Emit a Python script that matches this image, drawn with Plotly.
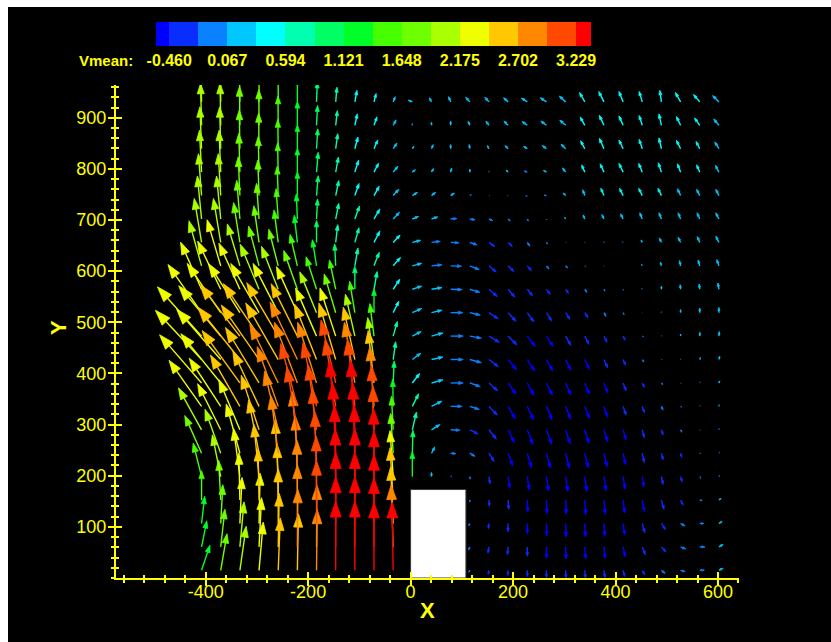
import math
import bisect
import plotly.graph_objects as go

# ---------------------------------------------------------------------------
# Measurement grid (tail position of each velocity vector)
# ---------------------------------------------------------------------------
x_grid = [-408.0, -370.6, -333.2, -295.8, -258.4, -221.0, -183.6, -146.2, -108.8, -71.4,
          -34.0, 3.4, 40.8, 78.2, 115.6, 153.0, 190.4, 227.8, 265.2, 302.6,
          340.0, 377.4, 414.8, 452.2, 489.6, 527.0, 564.4, 601.8]
y_grid = [15.0, 60.8, 106.6, 152.4, 198.2, 244.0, 289.8, 335.6, 381.4, 427.2, 473.0,
          518.8, 564.6, 610.4, 656.2, 702.0, 747.8, 793.6, 839.4, 885.2, 931.0]

# Mean horizontal velocity, one list per grid column (bottom -> top); None = inside the block
u_cols = [
    [0.4, 0.25, 0.15, 0.0, -0.4, -0.8, -1.1, -1.55, -2.0, -2.2, -2.1, -1.6, -1.0, -0.6, -0.35, -0.2, -0.15, -0.1, -0.08, -0.05, -0.05],
    [0.3, 0.2, 0.1, -0.1, -0.4, -0.75, -1.1, -1.5, -1.9, -2.1, -2.0, -1.6, -1.1, -0.65, -0.35, -0.2, -0.12, -0.08, -0.05, -0.03, -0.02],
    [0.3, 0.2, 0.1, -0.05, -0.3, -0.65, -1.0, -1.4, -1.8, -2.0, -1.9, -1.5, -1.0, -0.6, -0.3, -0.15, -0.08, -0.05, -0.03, -0.02, -0.02],
    [0.2, 0.12, 0.05, -0.05, -0.25, -0.5, -0.85, -1.25, -1.6, -1.8, -1.7, -1.35, -0.9, -0.5, -0.25, -0.12, -0.06, -0.04, -0.02, -0.01, 0.0],
    [0.1, 0.05, 0.0, -0.05, -0.15, -0.35, -0.65, -1.0, -1.35, -1.55, -1.5, -1.2, -0.8, -0.45, -0.2, -0.1, -0.05, -0.03, -0.02, -0.01, 0.0],
    [0.05, 0.02, 0.0, -0.02, -0.1, -0.25, -0.5, -0.8, -1.1, -1.3, -1.25, -1.0, -0.65, -0.35, -0.15, -0.05, 0.0, 0.0, 0.0, 0.0, 0.0],
    [0.03, 0.02, 0.0, -0.02, -0.08, -0.2, -0.4, -0.65, -0.9, -1.05, -1.0, -0.8, -0.5, -0.2, 0.0, 0.05, 0.08, 0.08, 0.06, 0.05, 0.04],
    [0.0, 0.0, 0.0, -0.02, -0.06, -0.15, -0.3, -0.5, -0.7, -0.8, -0.75, -0.55, -0.3, -0.05, 0.1, 0.15, 0.15, 0.13, 0.1, 0.08, 0.06],
    [0.0, 0.0, 0.0, 0.0, -0.03, -0.1, -0.2, -0.35, -0.5, -0.55, -0.45, -0.25, 0.0, 0.15, 0.2, 0.22, 0.2, 0.18, 0.15, 0.12, 0.1],
    [0.0, 0.0, 0.0, 0.0, -0.02, -0.05, -0.12, -0.2, -0.28, -0.3, -0.2, 0.0, 0.15, 0.25, 0.28, 0.28, 0.25, 0.22, 0.18, 0.14, 0.1],
    [-0.05, -0.1, -0.12, -0.15, -0.15, -0.12, -0.08, -0.02, 0.05, 0.12, 0.2, 0.27, 0.32, 0.35, 0.33, 0.3, 0.27, 0.23, 0.18, 0.14, 0.1],
    [None, None, None, None, 0.0, 0.03, 0.2, 0.3, 0.35, 0.4, 0.42, 0.45, 0.45, 0.45, 0.4, 0.3, 0.25, 0.15, 0.08, 0.0, -0.2],
    [None, None, None, None, 0.0, 0.15, 0.4, 0.5, 0.55, 0.55, 0.55, 0.5, 0.5, 0.5, 0.42, 0.3, 0.2, 0.1, 0.08, 0.0, -0.1],
    [None, None, None, None, 0.05, 0.25, 0.45, 0.55, 0.6, 0.6, 0.6, 0.58, 0.55, 0.52, 0.4, 0.3, 0.18, 0.05, 0.0, 0.0, -0.1],
    [-0.05, -0.06, -0.05, 0.0, 0.02, 0.25, 0.4, 0.45, 0.5, 0.55, 0.55, 0.5, 0.48, 0.45, 0.35, 0.25, 0.08, 0.0, -0.03, -0.08, -0.2],
    [-0.04, -0.05, -0.03, 0.02, 0.05, 0.25, 0.35, 0.4, 0.42, 0.45, 0.5, 0.45, 0.4, 0.35, 0.28, 0.18, 0.02, 0.0, -0.08, -0.15, -0.2],
    [-0.02, -0.03, -0.01, 0.03, 0.08, 0.22, 0.3, 0.35, 0.38, 0.4, 0.42, 0.38, 0.32, 0.28, 0.2, 0.1, -0.03, -0.1, -0.15, -0.2, -0.22],
    [0.0, 0.0, 0.0, 0.02, 0.1, 0.2, 0.27, 0.3, 0.32, 0.35, 0.38, 0.32, 0.25, 0.2, 0.12, 0.05, -0.08, -0.15, -0.18, -0.25, -0.28],
    [0.0, 0.01, 0.01, 0.02, 0.1, 0.2, 0.25, 0.27, 0.28, 0.3, 0.32, 0.25, 0.18, 0.12, 0.05, 0.0, -0.12, -0.15, -0.2, -0.27, -0.3],
    [0.02, 0.02, 0.02, 0.03, 0.1, 0.18, 0.22, 0.24, 0.25, 0.25, 0.25, 0.2, 0.14, 0.1, 0.02, -0.05, -0.12, -0.15, -0.22, -0.28, -0.3],
    [0.03, 0.04, 0.03, 0.05, 0.1, 0.17, 0.2, 0.22, 0.22, 0.22, 0.2, 0.15, 0.1, 0.04, 0.0, -0.08, -0.1, -0.15, -0.2, -0.22, -0.25],
    [0.05, 0.06, 0.04, 0.06, 0.1, 0.15, 0.18, 0.18, 0.18, 0.18, 0.15, 0.1, 0.05, 0.0, 0.0, -0.1, -0.15, -0.18, -0.22, -0.22, -0.25],
    [0.08, 0.1, 0.08, 0.08, 0.1, 0.12, 0.14, 0.14, 0.14, 0.12, 0.1, 0.05, 0.02, 0.0, -0.05, -0.12, -0.17, -0.2, -0.2, -0.2, -0.2],
    [0.12, 0.15, 0.12, 0.1, 0.08, 0.1, 0.1, 0.1, 0.1, 0.08, 0.05, 0.0, -0.02, -0.03, -0.06, -0.12, -0.17, -0.17, -0.15, -0.15, -0.15],
    [0.18, 0.22, 0.2, 0.12, 0.08, 0.08, 0.08, 0.07, 0.06, 0.04, 0.02, 0.0, 0.0, -0.05, -0.1, -0.12, -0.17, -0.15, -0.12, -0.12, -0.08],
    [0.22, 0.25, 0.22, 0.12, 0.07, 0.06, 0.06, 0.04, 0.02, 0.02, 0.0, 0.0, -0.02, -0.05, -0.12, -0.12, -0.15, -0.15, -0.2, -0.2, -0.25],
    [0.22, 0.25, 0.2, 0.12, 0.04, 0.05, 0.03, 0.03, 0.03, 0.03, 0.01, 0.0, -0.03, -0.08, -0.12, -0.13, -0.15, -0.15, -0.18, -0.25, -0.3],
    [0.2, 0.2, 0.15, 0.1, 0.04, 0.03, 0.02, 0.02, 0.04, 0.04, 0.02, 0.0, -0.05, -0.1, -0.15, -0.15, -0.15, -0.17, -0.2, -0.25, -0.3],
]

# Mean vertical velocity (Vmean), same layout as u_cols; also drives the colour
v_cols = [
    [1.2, 1.25, 1.3, 1.4, 1.6, 1.8, 2.0, 2.2, 2.3, 2.35, 2.35, 2.3, 2.25, 2.15, 2.1, 2.05, 2.0, 2.0, 2.0, 2.0, 2.0],
    [1.75, 1.8, 1.85, 1.9, 2.0, 2.1, 2.2, 2.3, 2.35, 2.4, 2.4, 2.35, 2.3, 2.2, 2.1, 2.05, 2.0, 2.0, 2.0, 2.0, 2.0],
    [2.1, 2.15, 2.2, 2.25, 2.3, 2.35, 2.4, 2.45, 2.5, 2.5, 2.45, 2.35, 2.2, 2.0, 1.9, 1.85, 1.85, 1.85, 1.85, 1.85, 1.85],
    [2.3, 2.35, 2.4, 2.45, 2.5, 2.55, 2.6, 2.65, 2.65, 2.6, 2.5, 2.35, 2.15, 1.9, 1.75, 1.7, 1.7, 1.7, 1.7, 1.7, 1.7],
    [2.5, 2.55, 2.6, 2.65, 2.7, 2.75, 2.8, 2.85, 2.8, 2.7, 2.55, 2.35, 2.05, 1.75, 1.55, 1.45, 1.4, 1.4, 1.4, 1.4, 1.4],
    [2.7, 2.75, 2.8, 2.85, 2.9, 2.95, 3.0, 3.0, 2.9, 2.75, 2.5, 2.2, 1.85, 1.5, 1.3, 1.2, 1.15, 1.15, 1.15, 1.15, 1.15],
    [2.9, 2.95, 3.0, 3.05, 3.1, 3.1, 3.1, 3.05, 2.9, 2.65, 2.3, 1.95, 1.55, 1.25, 1.05, 0.95, 0.95, 0.95, 0.95, 0.95, 0.95],
    [3.3, 3.35, 3.4, 3.4, 3.4, 3.35, 3.3, 3.2, 3.0, 2.7, 2.3, 1.85, 1.4, 1.05, 0.85, 0.75, 0.72, 0.72, 0.72, 0.7, 0.7],
    [3.3, 3.35, 3.4, 3.4, 3.4, 3.35, 3.3, 3.2, 2.9, 2.5, 2.0, 1.5, 1.1, 0.85, 0.7, 0.62, 0.58, 0.57, 0.56, 0.55, 0.55],
    [3.25, 3.3, 3.3, 3.3, 3.25, 3.2, 3.05, 2.85, 2.5, 2.0, 1.55, 1.15, 0.85, 0.65, 0.55, 0.48, 0.45, 0.43, 0.42, 0.4, 0.4],
    [3.25, 2.95, 2.7, 2.5, 2.2, 1.9, 1.6, 1.3, 1.05, 0.85, 0.7, 0.55, 0.48, 0.4, 0.35, 0.32, 0.3, 0.28, 0.27, 0.26, 0.25],
    [None, None, None, None, 1.2, 1.1, 0.85, 0.6, 0.45, 0.3, 0.22, 0.2, 0.15, 0.12, 0.1, 0.12, 0.15, 0.12, 0.12, 0.08, 0.08],
    [None, None, None, None, 0.2, 0.3, 0.25, 0.25, 0.15, 0.12, 0.15, 0.12, 0.08, 0.05, 0.05, 0.1, 0.15, 0.18, 0.2, 0.15, 0.2],
    [None, None, None, None, 0.02, -0.02, -0.02, 0.0, 0.0, 0.0, 0.0, 0.0, -0.02, -0.02, -0.02, 0.02, 0.12, 0.2, 0.2, 0.2, 0.25],
    [-0.1, -0.15, -0.12, -0.1, -0.12, -0.15, -0.2, -0.15, -0.18, -0.15, -0.1, -0.12, -0.15, -0.18, -0.12, -0.04, 0.04, 0.15, 0.2, 0.2, 0.22],
    [-0.2, -0.3, -0.25, -0.3, -0.35, -0.4, -0.45, -0.42, -0.38, -0.35, -0.3, -0.3, -0.35, -0.3, -0.2, -0.08, 0.0, 0.05, 0.15, 0.2, 0.22],
    [-0.25, -0.38, -0.4, -0.45, -0.55, -0.6, -0.62, -0.6, -0.55, -0.5, -0.42, -0.42, -0.38, -0.28, -0.2, -0.1, -0.01, 0.1, 0.15, 0.2, 0.2],
    [-0.3, -0.45, -0.5, -0.58, -0.65, -0.7, -0.7, -0.65, -0.6, -0.55, -0.5, -0.45, -0.32, -0.24, -0.18, -0.1, -0.02, 0.06, 0.12, 0.18, 0.18],
    [-0.35, -0.55, -0.6, -0.65, -0.7, -0.72, -0.7, -0.65, -0.6, -0.55, -0.5, -0.4, -0.25, -0.15, -0.08, -0.05, 0.02, 0.08, 0.15, 0.2, 0.2],
    [-0.38, -0.58, -0.65, -0.68, -0.72, -0.72, -0.68, -0.62, -0.58, -0.52, -0.45, -0.32, -0.2, -0.1, -0.02, 0.08, 0.12, 0.2, 0.22, 0.25, 0.28],
    [-0.38, -0.58, -0.65, -0.7, -0.72, -0.7, -0.65, -0.58, -0.55, -0.48, -0.4, -0.25, -0.15, -0.03, 0.02, 0.2, 0.28, 0.35, 0.38, 0.4, 0.45],
    [-0.35, -0.55, -0.62, -0.68, -0.68, -0.65, -0.58, -0.52, -0.48, -0.4, -0.3, -0.18, -0.1, -0.02, 0.04, 0.22, 0.35, 0.4, 0.5, 0.48, 0.5],
    [-0.3, -0.48, -0.55, -0.62, -0.6, -0.55, -0.48, -0.42, -0.38, -0.28, -0.2, -0.1, -0.05, 0.0, 0.03, 0.25, 0.35, 0.42, 0.42, 0.45, 0.5],
    [-0.22, -0.38, -0.45, -0.55, -0.5, -0.45, -0.38, -0.3, -0.22, -0.12, -0.05, -0.02, 0.04, 0.08, 0.12, 0.3, 0.35, 0.42, 0.45, 0.47, 0.5],
    [-0.15, -0.25, -0.3, -0.45, -0.38, -0.32, -0.25, -0.18, -0.08, -0.02, 0.03, 0.05, 0.15, 0.18, 0.22, 0.3, 0.35, 0.45, 0.52, 0.55, 0.55],
    [-0.06, -0.1, -0.12, -0.25, -0.25, -0.2, -0.12, -0.05, -0.02, 0.04, 0.1, 0.15, 0.22, 0.25, 0.25, 0.3, 0.33, 0.4, 0.4, 0.42, 0.45],
    [0.02, 0.0, 0.0, -0.02, -0.08, -0.03, -0.02, 0.02, 0.05, 0.1, 0.18, 0.22, 0.25, 0.28, 0.28, 0.3, 0.3, 0.35, 0.35, 0.35, 0.35],
    [0.1, 0.12, 0.1, 0.08, 0.05, 0.05, 0.06, 0.08, 0.1, 0.16, 0.22, 0.25, 0.3, 0.3, 0.3, 0.3, 0.3, 0.33, 0.33, 0.3, 0.3],
]

# Contour levels of the Vmean legend and the colour of each band
level_edges = [-0.460, -0.1965, 0.067, 0.3305, 0.594, 0.8575, 1.121, 1.3845,
               1.648, 1.9115, 2.175, 2.4385, 2.702, 2.9655, 3.229]
band_colors = ["#0000FF", "#0A2DFF", "#0A82FF", "#00C8FF", "#00FFFF", "#00FFAF",
               "#00FF64", "#00FF28", "#46FF00", "#6EFF00", "#AAFF00", "#EEFF00",
               "#FFC800", "#FF8800", "#FF4800", "#FF0000"]
legend_ticks = [-0.460, 0.067, 0.594, 1.121, 1.648, 2.175, 2.702, 3.229]
legend_labels = ["-0.460", "0.067", "0.594", "1.121", "1.648", "2.175", "2.702", "3.229"]
legend_min, legend_max = -0.580, 3.364

# Solid block in the flow
block_x = [0.0, 108.0]
block_y = [0.0, 173.0]

x_ticks = [-400, -200, 0, 200, 400, 600]
y_ticks = [100, 200, 300, 400, 500, 600, 700, 800, 900]

# ---------------------------------------------------------------------------
# Drawing parameters
# ---------------------------------------------------------------------------
ARROW_SCALE = 41.0   # axis units per unit of velocity
HEAD_FRAC = 0.20     # arrowhead length: fraction of vector length ...
HEAD_MIN = 4.0       # ... plus a constant part (axis units)
HEAD_HALF = 0.34     # arrowhead half-width relative to its length
YELLOW = "#FFFF00"
FONT = "Liberation Sans, Arial, sans-serif"

PLOT_W = 623         # plot-area width in px (831 - 116 - 92)

shafts = {k: ([], []) for k in range(len(band_colors))}
heads = {k: ([], []) for k in range(len(band_colors))}

for i, x0 in enumerate(x_grid):
    for j, y0 in enumerate(y_grid):
        u = u_cols[i][j]
        v = v_cols[i][j]
        if u is None or v is None:
            continue
        band = bisect.bisect_right(level_edges, v)
        dx, dy = u * ARROW_SCALE, v * ARROW_SCALE
        length = math.hypot(dx, dy)
        if length < 0.5:
            continue
        ex, ey = dx / length, dy / length
        tx, ty = x0 + dx, y0 + dy
        h = min(HEAD_FRAC * length + HEAD_MIN, 0.6 * length)
        bx, by = tx - h * ex, ty - h * ey
        w = HEAD_HALF * h
        sx, sy = shafts[band]
        sx += [x0, bx, None]
        sy += [y0, by, None]
        hx, hy = heads[band]
        hx += [tx, bx - w * ey, bx + w * ey, tx, None]
        hy += [ty, by + w * ex, by - w * ex, ty, None]

fig = go.Figure()

for k, color in enumerate(band_colors):
    sx, sy = shafts[k]
    if not sx:
        continue
    fig.add_trace(go.Scatter(
        x=sx, y=sy, mode="lines", line=dict(color=color, width=1.4),
        hoverinfo="skip", showlegend=False))
    hx, hy = heads[k]
    fig.add_trace(go.Scatter(
        x=hx, y=hy, mode="lines", fill="toself", fillcolor=color,
        line=dict(color=color, width=0.8), hoverinfo="skip", showlegend=False))

# the block
fig.add_trace(go.Scatter(
    x=[block_x[0], block_x[1], block_x[1], block_x[0], block_x[0]],
    y=[block_y[0], block_y[0], block_y[1], block_y[1], block_y[0]],
    mode="lines", fill="toself", fillcolor="white",
    line=dict(color="#3a3a3a", width=1), hoverinfo="skip", showlegend=False))

# stepped colour scale for the Vmean legend
span = legend_max - legend_min
colorscale = [[0.0, band_colors[0]]]
for k, edge in enumerate(level_edges):
    p = (edge - legend_min) / span
    colorscale.append([p, band_colors[k]])
    colorscale.append([p, band_colors[k + 1]])
colorscale.append([1.0, band_colors[-1]])

fig.add_trace(go.Scatter(
    x=[None], y=[None], mode="markers", hoverinfo="skip", showlegend=False,
    marker=dict(
        color=[0.0], cmin=legend_min, cmax=legend_max, colorscale=colorscale,
        showscale=True,
        colorbar=dict(
            orientation="h", thickness=24, thicknessmode="pixels",
            len=435, lenmode="pixels",
            x=156 / PLOT_W, xanchor="left", xref="container",
            y=1 - 22 / 642, yanchor="top", yref="container",
            xpad=0, ypad=0, outlinewidth=0, borderwidth=0,
            tickmode="array", tickvals=legend_ticks, ticktext=legend_labels,
            ticks="", ticklen=0,
            tickfont=dict(family=FONT, size=16, color=YELLOW, weight="bold"),
        ),
    )))

# overlay axes carrying the inward half of the crossing ticks
fig.add_trace(go.Scatter(x=[None], y=[None], xaxis="x2", yaxis="y2",
                         hoverinfo="skip", showlegend=False))

X_RANGE = [-575, 641]
Y_RANGE = [0, 964]

axis_common = dict(showgrid=False, zeroline=False, tickcolor=YELLOW)

fig.update_layout(
    width=831, height=642, autosize=False,
    margin=dict(l=116, r=92, t=85, b=64),
    paper_bgcolor="black", plot_bgcolor="black",
    font=dict(family=FONT, color=YELLOW),
    xaxis=dict(
        range=X_RANGE, tickmode="array", tickvals=x_ticks,
        ticktext=[str(t) for t in x_ticks],
        ticks="outside", ticklen=6, tickwidth=2,
        showline=True, linecolor=YELLOW, linewidth=2,
        tickfont=dict(family=FONT, size=18, color=YELLOW),
        ticklabelstandoff=-10,
        minor=dict(ticks="outside", ticklen=3, tickwidth=1.5, tickcolor=YELLOW,
                   tickmode="linear", tick0=0, dtick=40),
        **axis_common,
    ),
    yaxis=dict(
        range=Y_RANGE, tickmode="array", tickvals=y_ticks,
        ticktext=[str(t) for t in y_ticks],
        ticks="outside", ticklen=6, tickwidth=2,
        showline=True, linecolor=YELLOW, linewidth=2,
        tickfont=dict(family=FONT, size=18, color=YELLOW),
        ticklabelstandoff=-2,
        minor=dict(ticks="outside", ticklen=3, tickwidth=1.5, tickcolor=YELLOW,
                   tickmode="linear", tick0=0, dtick=20),
        **axis_common,
    ),
    xaxis2=dict(
        overlaying="x", matches="x", anchor="y2", side="bottom", range=X_RANGE,
        tickmode="array", tickvals=x_ticks, showticklabels=False,
        ticks="inside", ticklen=6, tickwidth=2, showline=False,
        minor=dict(ticks="inside", ticklen=3, tickwidth=1.5, tickcolor=YELLOW,
                   tickmode="linear", tick0=0, dtick=40),
        **axis_common,
    ),
    yaxis2=dict(
        overlaying="y", matches="y", anchor="x2", side="left", range=Y_RANGE,
        tickmode="array", tickvals=y_ticks, showticklabels=False,
        ticks="inside", ticklen=6, tickwidth=2, showline=False,
        minor=dict(ticks="inside", ticklen=3, tickwidth=1.5, tickcolor=YELLOW,
                   tickmode="linear", tick0=0, dtick=20),
        **axis_common,
    ),
    annotations=[
        dict(text="Vmean:", xref="paper", yref="paper",
             x=(77 - 116) / 623, y=(578 - 60) / 493, xanchor="left", yanchor="middle",
             showarrow=False, font=dict(family=FONT, size=15, color=YELLOW, weight="bold")),
        dict(text="X", xref="paper", yref="paper",
             x=(427 - 116) / 623, y=(578 - 610) / 493, xanchor="center", yanchor="middle",
             showarrow=False, font=dict(family=FONT, size=22, color=YELLOW, weight="bold")),
        dict(text="Y", xref="paper", yref="paper", textangle=-90,
             x=(58 - 116) / 623, y=(578 - 328) / 493, xanchor="center", yanchor="middle",
             showarrow=False, font=dict(family=FONT, size=22, color=YELLOW, weight="bold")),
    ],
    shapes=[
        dict(type="rect", xref="paper", yref="paper", layer="below",
             x0=-0.3, x1=(8 - 116) / 623, y0=-0.5, y1=1.5,
             fillcolor="white", line=dict(width=0)),
        dict(type="rect", xref="paper", yref="paper", layer="below",
             x0=-0.3, x1=1.5, y0=(578 - 7) / 493, y1=1.5,
             fillcolor="white", line=dict(width=0)),
    ],
)

fig.write_html("out.html")
